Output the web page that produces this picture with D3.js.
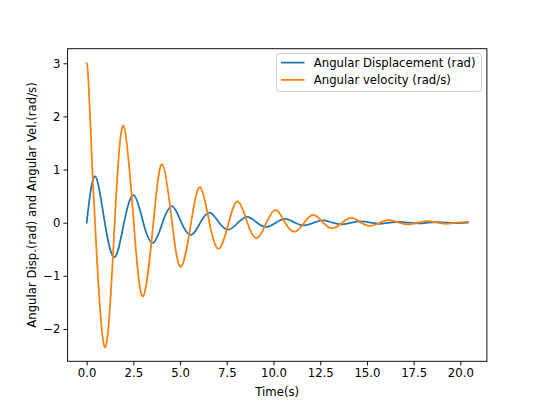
<!DOCTYPE html>
<html><head><meta charset="utf-8">
<script src="https://cdn.jsdelivr.net/npm/d3@7"></script>
<style>body{margin:0;background:#fff}svg{display:block}text{font-family:"DejaVu Sans",sans-serif;fill:#000}</style>
</head><body>
<svg id="c" width="541" height="406"></svg>
<script>
const dispT = [0,0.45,0.97,1.5,2.0,2.52,3.03,3.55,4.06,4.57,5.07,5.59,6.08,6.58,7.09,7.6,8.1,8.6,9.12,9.63,10.13,10.63,11.15,11.65,12.16,12.67,13.17,13.68,14.19,14.7,15.2,15.71,16.22,16.73,17.24,17.75,18.26,18.77,19.28,19.79,20.4];
const dispV = [0,0.87,0,-0.65,0,0.52,0,-0.38,0,0.31,0,-0.23,0,0.19,0,-0.13,0,0.11,0,-0.08,0,0.07,0,-0.05,0,0.045,0,-0.03,0,0.025,0,-0.02,0,0.015,0,-0.012,0,0.01,0,-0.007,0.002];
const velT = [0,0.11,0.32,0.45,0.96,1.5,1.98,2.52,3.02,3.57,4.05,4.57,5.05,5.59,6.07,6.57,7.07,7.6,8.09,8.6,9.1,9.62,10.12,10.62,11.14,11.64,12.14,12.66,13.14,13.68,14.16,14.7,15.16,15.7,16.18,16.72,17.2,17.74,18.2,18.76,19.24,19.78,20.4];
const velV = [3.0,2.55,0.88,0,-2.34,0,1.82,0,-1.385,0,1.10,0,-0.83,0,0.67,0,-0.49,0,0.40,0,-0.29,0,0.24,0,-0.17,0,0.145,0,-0.105,0,0.09,0,-0.06,0,0.05,0,-0.03,0,0.03,0,-0.02,0,0.015];
const xTicks = [0,2.5,5,7.5,10,12.5,15,17.5,20];
const yTicks = [-2,-1,0,1,2,3];
const seriesNames = ["Angular Displacement (rad)","Angular velocity (rad/s)"];
const colors = ["#1f77b4","#ff7f0e"];

const svg = d3.select("#c");
const L=67.6,R=486.9,T=48.7,B=361.3;
const x = d3.scaleLinear().domain([-1.02,21.42]).range([L,R]);
const y = d3.scaleLinear().domain([-2.6085,3.2745]).range([B,T]);

const line = d3.line().x(d=>x(d[0])).y(d=>y(d[1])).curve(d3.curveNatural);
const series = [dispT.map((t,i)=>[t,dispV[i]]), velT.map((t,i)=>[t,velV[i]])];
const g = svg.append("g");
series.forEach((s,i)=>{
  g.append("path").attr("d",line(s)).attr("fill","none").attr("stroke",colors[i]).attr("stroke-width",1.76).attr("stroke-linejoin","round").attr("stroke-linecap","square");
});

const fs = 11.7;
const xa = svg.append("g").attr("transform",`translate(0,${B})`)
  .call(d3.axisBottom(x).tickValues(xTicks).tickFormat(d3.format(".1f")).tickSize(4.1).tickPadding(3));
const ya = svg.append("g").attr("transform",`translate(${L},0)`)
  .call(d3.axisLeft(y).tickValues(yTicks).tickFormat(d=>d<0?"\u2212"+Math.abs(d):d).tickSize(4.1).tickPadding(3));
[xa,ya].forEach(a=>{a.select(".domain").remove();a.selectAll("line").attr("stroke","#000").attr("stroke-width",0.94);a.selectAll("text").attr("font-size",fs).attr("font-family","DejaVu Sans").attr("fill","#000");});

svg.append("rect").attr("x",L).attr("y",T).attr("width",R-L).attr("height",B-T).attr("fill","none").attr("stroke","#000").attr("stroke-width",0.94);

svg.append("text").attr("x",(L+R)/2).attr("y",396).attr("text-anchor","middle").attr("font-size",fs).text("Time(s)");
svg.append("text").attr("transform",`translate(36,${(T+B)/2}) rotate(-90)`).attr("text-anchor","middle").attr("font-size",fs).text("Angular Disp.(rad) and Angular Vel.(rad/s)");

const lg = svg.append("g");
lg.append("rect").attr("x",276.5).attr("y",53.5).attr("width",205).attr("height",38).attr("rx",3).attr("fill","#fff").attr("fill-opacity",0.8).attr("stroke","#ccc").attr("stroke-width",1);
seriesNames.forEach((n,i)=>{
  const base = 66.6 + i*17.3;
  lg.append("line").attr("x1",281).attr("x2",304.5).attr("y1",base-4).attr("y2",base-4).attr("stroke",colors[i]).attr("stroke-width",1.76);
  lg.append("text").attr("x",313.8).attr("y",base).attr("font-size",fs).text(n);
});
</script>
</body></html>
